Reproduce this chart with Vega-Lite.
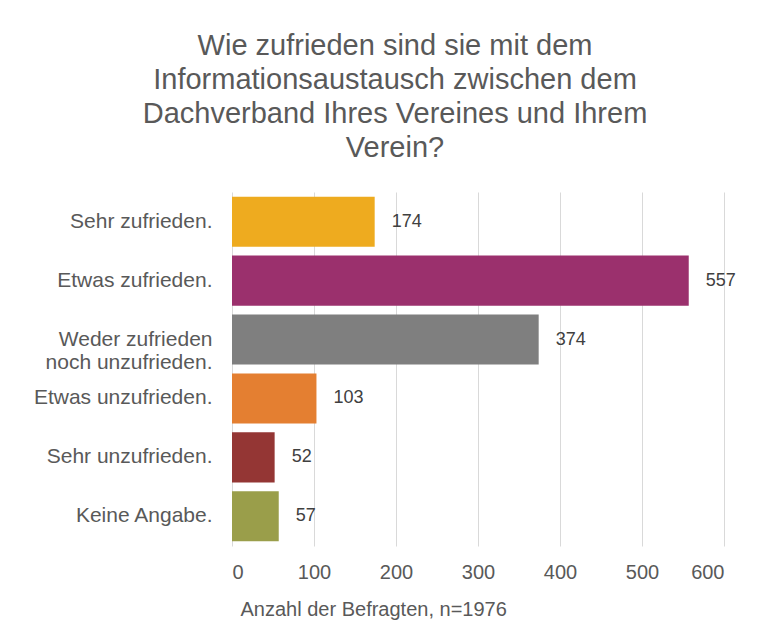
{
  "$schema": "https://vega.github.io/schema/vega-lite/v6.json",
  "width": 492,
  "height": 354,
  "autosize": {"type": "none"},
  "padding": {"left": 232, "top": 192, "right": 33, "bottom": 98},
  "background": "white",
  "config": {
    "font": "Liberation Sans",
    "view": {"stroke": null}
  },
  "title": {
    "text": ["Wie zufrieden sind sie mit dem", "Informationsaustausch zwischen dem", "Dachverband Ihres Vereines und Ihrem", "Verein?"],
    "fontSize": 29,
    "fontWeight": "normal",
    "color": "#595959",
    "lineHeight": 34,
    "anchor": "middle",
    "frame": "group",
    "dx": -83,
    "baseline": "top",
    "offset": 29
  },
  "data": {
    "values": [
      {"antwort": "Sehr zufrieden.", "anzahl": 174},
      {"antwort": "Etwas zufrieden.", "anzahl": 557},
      {"antwort": "Weder zufrieden noch unzufrieden.", "anzahl": 374},
      {"antwort": "Etwas unzufrieden.", "anzahl": 103},
      {"antwort": "Sehr unzufrieden.", "anzahl": 52},
      {"antwort": "Keine Angabe.", "anzahl": 57}
    ]
  },
  "encoding": {
    "y": {
      "field": "antwort",
      "type": "nominal",
      "sort": null,
      "scale": {"paddingInner": 0.15, "paddingOuter": 0.08},
      "axis": {
        "title": null,
        "domain": false,
        "ticks": false,
        "labelFontSize": 21,
        "labelColor": "#595959",
        "labelPadding": 20,
        "labelLimit": 250,
        "labelLineHeight": 23,
        "labelExpr": "datum.value == 'Weder zufrieden noch unzufrieden.' ? ['Weder zufrieden ', 'noch unzufrieden.'] : datum.value"
      }
    },
    "x": {
      "field": "anzahl",
      "type": "quantitative",
      "scale": {"domain": [0, 600], "nice": false},
      "axis": {
        "values": [0, 100, 200, 300, 400, 500, 600],
        "title": "Anzahl der Befragten, n=1976",
        "titleFontSize": 20,
        "titleFontWeight": "normal",
        "titleColor": "#595959",
        "titleAnchor": "start",
        "titleAlign": "left",
        "titleBaseline": "alphabetic",
        "titleX": 8,
        "titleY": 69,
        "domain": false,
        "ticks": false,
        "grid": true,
        "gridColor": "#D9D9D9",
        "gridWidth": 1,
        "labelFontSize": 20,
        "labelColor": "#595959",
        "labelPadding": 16
      }
    }
  },
  "layer": [
    {
      "mark": {"type": "bar"},
      "encoding": {
        "color": {
          "field": "antwort",
          "type": "nominal",
          "legend": null,
          "scale": {
            "domain": ["Sehr zufrieden.", "Etwas zufrieden.", "Weder zufrieden noch unzufrieden.", "Etwas unzufrieden.", "Sehr unzufrieden.", "Keine Angabe."],
            "range": ["#EEAB1F", "#9B306D", "#7F7F7F", "#E47F31", "#943634", "#9A9E4A"]
          }
        }
      }
    },
    {
      "mark": {"type": "text", "align": "left", "baseline": "middle", "dx": 17, "fontSize": 18, "color": "#404040"},
      "encoding": {
        "text": {"field": "anzahl", "type": "quantitative"}
      }
    }
  ]
}
